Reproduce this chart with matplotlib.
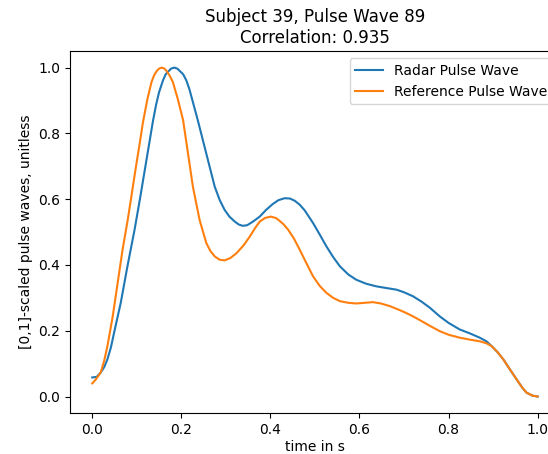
import matplotlib
matplotlib.use("Agg")
import matplotlib.pyplot as plt

# values
t_radar = [0.000, 0.010, 0.019, 0.027, 0.034, 0.042, 0.049, 0.064, 0.079, 0.095,
           0.107, 0.118, 0.128, 0.136, 0.143, 0.150, 0.159, 0.165, 0.177, 0.184,
           0.191, 0.204, 0.211, 0.218, 0.224, 0.230, 0.237, 0.256, 0.275, 0.286,
           0.297, 0.308, 0.320, 0.329, 0.338, 0.348, 0.361, 0.376, 0.390, 0.405,
           0.418, 0.432, 0.444, 0.455, 0.466, 0.477, 0.496, 0.511, 0.526, 0.541,
           0.556, 0.575, 0.593, 0.615, 0.638, 0.660, 0.683, 0.700, 0.720, 0.740,
           0.758, 0.780, 0.800, 0.825, 0.848, 0.870, 0.885, 0.897, 0.910, 0.923,
           0.938, 0.953, 0.965, 0.975, 0.988, 1.000]
radar = [0.058, 0.060, 0.073, 0.090, 0.113, 0.150, 0.194, 0.285, 0.396, 0.507,
         0.600, 0.689, 0.770, 0.835, 0.885, 0.925, 0.962, 0.980, 0.997, 1.000,
         0.997, 0.980, 0.962, 0.935, 0.905, 0.875, 0.840, 0.739, 0.638, 0.598,
         0.568, 0.547, 0.532, 0.523, 0.519, 0.521, 0.532, 0.547, 0.567, 0.585,
         0.597, 0.603, 0.602, 0.595, 0.583, 0.566, 0.527, 0.492, 0.456, 0.424,
         0.396, 0.371, 0.355, 0.343, 0.335, 0.330, 0.325, 0.317, 0.305, 0.288,
         0.270, 0.244, 0.224, 0.204, 0.192, 0.179, 0.168, 0.153, 0.135, 0.113,
         0.082, 0.052, 0.028, 0.012, 0.003, 0.000]

t_ref = [0.000, 0.008, 0.019, 0.027, 0.034, 0.046, 0.057, 0.068, 0.080, 0.088,
         0.097, 0.106, 0.114, 0.124, 0.133, 0.139, 0.145, 0.150, 0.156, 0.162,
         0.168, 0.174, 0.181, 0.192, 0.204, 0.215, 0.226, 0.241, 0.256, 0.265,
         0.275, 0.286, 0.297, 0.310, 0.324, 0.340, 0.354, 0.366, 0.376, 0.388,
         0.401, 0.412, 0.420, 0.430, 0.440, 0.453, 0.466, 0.481, 0.496, 0.511,
         0.526, 0.541, 0.556, 0.575, 0.593, 0.612, 0.630, 0.648, 0.668, 0.690,
         0.705, 0.720, 0.736, 0.758, 0.780, 0.800, 0.825, 0.848, 0.870, 0.885,
         0.897, 0.910, 0.923, 0.938, 0.953, 0.965, 0.975, 0.988, 1.000]
reference = [0.040, 0.052, 0.073, 0.110, 0.153, 0.244, 0.345, 0.446, 0.540, 0.610,
             0.689, 0.765, 0.835, 0.905, 0.956, 0.977, 0.990, 0.997, 1.000, 0.997,
             0.988, 0.975, 0.956, 0.905, 0.840, 0.739, 0.638, 0.537, 0.467, 0.443,
             0.426, 0.416, 0.414, 0.421, 0.436, 0.460, 0.487, 0.513, 0.532, 0.543,
             0.547, 0.543, 0.535, 0.523, 0.507, 0.480, 0.446, 0.405, 0.365, 0.336,
             0.315, 0.300, 0.290, 0.285, 0.283, 0.285, 0.287, 0.283, 0.275, 0.263,
             0.254, 0.244, 0.232, 0.215, 0.199, 0.188, 0.179, 0.173, 0.168, 0.162,
             0.153, 0.135, 0.113, 0.082, 0.052, 0.028, 0.012, 0.003, 0.000]

fig = plt.figure(figsize=(5.48, 4.54), dpi=100)
ax = fig.add_axes([0.1277, 0.0903, 0.894, 0.797])

ax.plot(t_radar, radar, label="Radar Pulse Wave")
ax.plot(t_ref, reference, label="Reference Pulse Wave")

ax.set_title("Subject 39, Pulse Wave 89\nCorrelation: 0.935")
ax.set_xlabel("time in s", labelpad=2)
ax.set_ylabel("[0,1]-scaled pulse waves, unitless")
ax.legend(loc="upper right")

fig.savefig("out.png", dpi=100)
